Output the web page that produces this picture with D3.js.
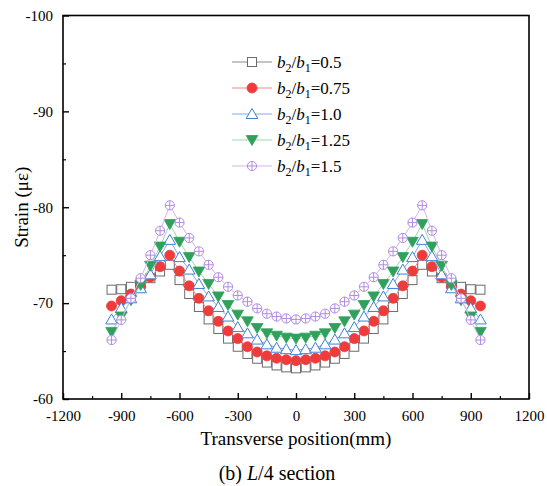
<!DOCTYPE html>
<meta charset="utf-8">
<style>
body { margin: 0; background: #fff; }
text { font-family: "Liberation Serif", "Times New Roman", serif; fill: #000; }
.tick text { font-size: 15px; }
.domain { display: none; }
</style>
<svg width="547" height="486"></svg>
<script src="https://d3js.org/d3.v7.min.js"></script>
<script>

// transverse positions (mm)
var positions = [-950, -900, -850, -800, -750, -700, -650, -600, -550, -500, -450, -400, -350, -300, -250, -200, -150, -100, -50,
  0, 50, 100, 150, 200, 250, 300, 350, 400, 450, 500, 550, 600, 650, 700, 750, 800, 850, 900, 950];

var ratio050 = [-71.4, -71.45, -71.7, -72.1, -72.6, -73.3, -74.0, -72.4, -70.95, -69.6, -68.3, -67.3, -66.3, -65.45, -64.7, -64.2, -63.8, -63.5, -63.3,
  -63.2, -63.3, -63.5, -63.8, -64.2, -64.7, -65.45, -66.3, -67.3, -68.3, -69.6, -70.95, -72.4, -74.0, -73.3, -72.6, -72.1, -71.7, -71.45, -71.4];
var ratio075 = [-69.7, -70.25, -70.95, -71.7, -72.7, -73.8, -75.0, -73.35, -71.8, -70.5, -69.2, -68.1, -67.1, -66.3, -65.45, -64.9, -64.5, -64.25, -64.1,
  -64.0, -64.1, -64.25, -64.5, -64.9, -65.45, -66.3, -67.1, -68.1, -69.2, -70.5, -71.8, -73.35, -75.0, -73.8, -72.7, -71.7, -70.95, -70.25, -69.7];
var ratio100 = [-68.3, -69.5, -70.5, -71.55, -73.0, -74.9, -76.6, -74.8, -73.5, -72.0, -70.7, -69.6, -68.6, -67.5, -66.85, -66.2, -65.7, -65.35, -65.2,
  -65.1, -65.2, -65.35, -65.7, -66.2, -66.85, -67.5, -68.6, -69.6, -70.7, -72.0, -73.5, -74.8, -76.6, -74.9, -73.0, -71.55, -70.5, -69.5, -68.3];
var ratio125 = [-67.0, -68.6, -70.3, -71.9, -73.9, -75.9, -78.25, -76.4, -74.8, -73.3, -72.0, -70.7, -69.8, -68.8, -68.1, -67.4, -66.85, -66.6, -66.4,
  -66.3, -66.4, -66.6, -66.85, -67.4, -68.1, -68.8, -69.8, -70.7, -72.0, -73.3, -74.8, -76.4, -78.25, -75.9, -73.9, -71.9, -70.3, -68.6, -67.0];
var ratio150 = [-66.15, -68.25, -70.5, -72.6, -75.0, -77.55, -80.2, -78.4, -76.8, -75.4, -74.0, -72.7, -71.7, -70.8, -70.15, -69.45, -68.9, -68.6, -68.4,
  -68.3, -68.4, -68.6, -68.9, -69.45, -70.15, -70.8, -71.7, -72.7, -74.0, -75.4, -76.8, -78.4, -80.2, -77.55, -75.0, -72.6, -70.5, -68.25, -66.15];

var legendRatios = ["0.5", "0.75", "1.0", "1.25", "1.5"];
var xTicks = [-1200, -900, -600, -300, 0, 300, 600, 900, 1200];
var yTicks = [-100, -90, -80, -70, -60];

var series = [
  {label: legendRatios[0], values: ratio050, shape: "square", stroke: "#6b6b6b", fill: "#fff", line: "#8a8a8a"},
  {label: legendRatios[1], values: ratio075, shape: "circle", stroke: "#ef3b3b", fill: "#ef3b3b", line: "#f28a8a"},
  {label: legendRatios[2], values: ratio100, shape: "triangle", stroke: "#3f7fd6", fill: "#fff", line: "#86a9e3"},
  {label: legendRatios[3], values: ratio125, shape: "triangledown", stroke: "#2fa15c", fill: "#2fa15c", line: "#9fd6b3"},
  {label: legendRatios[4], values: ratio150, shape: "circleplus", stroke: "#b28be3", fill: "#fff", line: "#d2b8f0"}
];

var svg = d3.select("svg"),
    margin = {top: 15.5, right: 18, bottom: 87, left: 63},
    width = 547 - margin.left - margin.right,
    height = 486 - margin.top - margin.bottom;

var x = d3.scaleLinear().domain([-1200, 1200]).range([0, width]);
var y = d3.scaleLinear().domain([-60, -100]).range([height, 0]);

var g = svg.append("g").attr("transform", "translate(" + margin.left + "," + margin.top + ")");

// plain hyphen minus, as in the original figure
function fmt(d) { return String(d); }

// minor ticks
g.append("g")
    .attr("transform", "translate(0," + height + ")")
    .call(d3.axisBottom(x).tickValues(d3.range(-1050, 1200, 300)).tickSize(-3).tickFormat(""))
    .selectAll("line").attr("stroke-width", 1.2);
g.append("g")
    .call(d3.axisLeft(y).tickValues([-95, -85, -75, -65]).tickSize(-3).tickFormat(""))
    .selectAll("line").attr("stroke-width", 1.2);

// major ticks
var xAxis = g.append("g")
    .attr("transform", "translate(0," + height + ")")
    .call(d3.axisBottom(x).tickValues(xTicks).tickSize(-6).tickPadding(11).tickFormat(fmt));
xAxis.selectAll("line").attr("stroke-width", 1.4);

var yAxis = g.append("g")
    .call(d3.axisLeft(y).tickValues(yTicks).tickSize(-6).tickPadding(10).tickFormat(fmt));
yAxis.selectAll("line").attr("stroke-width", 1.4);
g.selectAll(".tick text").attr("font-family", "Liberation Serif").style("font-size", "15px");

// frame
g.append("rect")
    .attr("width", width).attr("height", height)
    .attr("fill", "none").attr("stroke", "#000").attr("stroke-width", 1.6);

function drawMarker(sel, s) {
  if (s.shape === "square") {
    sel.append("rect").attr("x", -4.5).attr("y", -4.5).attr("width", 9).attr("height", 9)
      .attr("fill", s.fill).attr("stroke", s.stroke).attr("stroke-width", 1);
  } else if (s.shape === "circle") {
    sel.append("circle").attr("r", 5).attr("fill", s.fill).attr("stroke", s.stroke).attr("stroke-width", 0.8);
  } else if (s.shape === "triangle") {
    sel.append("path").attr("d", "M0,-5.5L5.8,4.5L-5.8,4.5Z")
      .attr("fill", s.fill).attr("stroke", s.stroke).attr("stroke-width", 1);
  } else if (s.shape === "triangledown") {
    sel.append("path").attr("d", "M0,5.5L5.8,-4.5L-5.8,-4.5Z")
      .attr("fill", s.fill).attr("stroke", s.stroke).attr("stroke-width", 0.8);
  } else {
    sel.append("circle").attr("r", 4.6).attr("fill", s.fill).attr("stroke", s.stroke).attr("stroke-width", 1);
    sel.append("path").attr("d", "M-4.6,0H4.6M0,-4.6V4.6").attr("stroke", s.stroke).attr("stroke-width", 1);
  }
}

var line = d3.line()
    .x(function(d, i) { return x(positions[i]); })
    .y(function(d) { return y(d); });

series.forEach(function(s) {
  var sg = g.append("g");
  sg.append("path")
      .datum(s.values)
      .attr("d", line)
      .attr("fill", "none")
      .attr("stroke", s.line)
      .attr("stroke-width", 1);
  sg.selectAll("g.pt")
    .data(s.values)
    .enter().append("g")
      .attr("class", "pt")
      .attr("transform", function(d, i) { return "translate(" + x(positions[i]) + "," + y(d) + ")"; })
      .each(function() { drawMarker(d3.select(this), s); });
});

// legend
var legend = svg.append("g").attr("transform", "translate(232,62)");
series.forEach(function(s, i) {
  var row = legend.append("g").attr("transform", "translate(0," + (i * 26) + ")");
  row.append("line").attr("x1", 0).attr("x2", 40).attr("stroke", s.line).attr("stroke-width", 1.2);
  drawMarker(row.append("g").attr("transform", "translate(20,0)"), s);
  var t = row.append("text").attr("x", 45).attr("y", 6).style("font-size", "17px");
  t.append("tspan").attr("font-style", "italic").text("b");
  t.append("tspan").attr("dy", 4).style("font-size", "12px").text("2");
  t.append("tspan").attr("dy", -4).text("/");
  t.append("tspan").attr("font-style", "italic").text("b");
  t.append("tspan").attr("dy", 4).style("font-size", "12px").text("1");
  t.append("tspan").attr("dy", -4).text("=" + s.label);
});

// axis titles
svg.append("text")
    .attr("x", margin.left + width / 2).attr("y", 445)
    .attr("text-anchor", "middle").style("font-size", "19px")
    .text("Transverse position(mm)");

svg.append("text")
    .attr("transform", "translate(28," + (margin.top + height / 2) + ") rotate(-90)")
    .attr("text-anchor", "middle").style("font-size", "19px")
    .text("Strain (με)");

var cap = svg.append("text")
    .attr("x", 277).attr("y", 480)
    .attr("text-anchor", "middle").style("font-size", "20px");
cap.append("tspan").text("(b) ");
cap.append("tspan").attr("font-style", "italic").text("L");
cap.append("tspan").text("/4 section");

</script>
